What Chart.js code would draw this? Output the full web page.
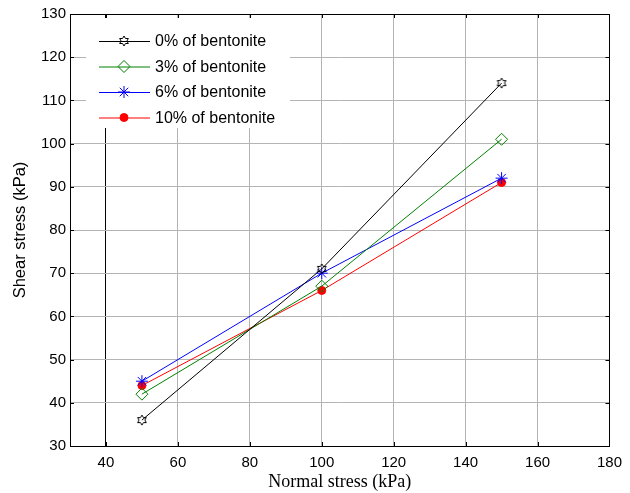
<!DOCTYPE html>
<html>
<head>
<meta charset="utf-8">
<script src="https://cdn.jsdelivr.net/npm/chart.js@4"></script>
<style>
  html, body { margin: 0; padding: 0; background: #fff; }
  #wrap { width: 630px; height: 493px; }
</style>
</head>
<body>
<div id="wrap"><canvas id="shearChart" width="630" height="493"></canvas></div>
<script>
// data
const normalStress = [50, 100, 150];
const shear0 = [36, 71, 114];
const shear3 = [42, 67, 101];
const shear6 = [45, 70, 92];
const shear10 = [44, 66, 91];
const seriesNames = ['0% of bentonite', '3% of bentonite', '6% of bentonite', '10% of bentonite'];
const xTicks = [40, 60, 80, 100, 120, 140, 160, 180];
const yTicks = [30, 40, 50, 60, 70, 80, 90, 100, 110, 120, 130];

const SANS = 'Arial, "Liberation Sans", sans-serif';
const SERIF = '"Times New Roman", "Liberation Serif", serif';

// hexagram marker for the 0% series
function hexagram(color, r) {
    const c = document.createElement('canvas');
    const s = r * 2 + 4;
    c.width = s; c.height = s;
    const g = c.getContext('2d');
    g.strokeStyle = color;
    g.lineWidth = 1;
    const cx = s / 2, cy = s / 2;
    g.beginPath();
    for (let i = 0; i < 12; i++) {
        const rr = i % 2 === 0 ? r : r * 0.58;
        const a = -Math.PI / 2 + i * Math.PI / 6;
        const px = cx + rr * Math.cos(a), py = cy + rr * Math.sin(a);
        if (i === 0) g.moveTo(px, py); else g.lineTo(px, py);
    }
    g.closePath();
    g.stroke();
    return c;
}
const hexMark = hexagram('#000', 5);

function pts(ys) {
    return normalStress.map((x, i) => ({ x: x, y: ys[i] }));
}

const datasets = [
    { label: seriesNames[0], data: pts(shear0), borderColor: '#000', backgroundColor: '#000',
      pointStyle: hexMark, pointRadius: 5 },
    { label: seriesNames[1], data: pts(shear3), borderColor: '#008000', backgroundColor: 'rgba(0,0,0,0)',
      pointStyle: 'rectRot', pointRadius: 6 },
    { label: seriesNames[2], data: pts(shear6), borderColor: '#0000ff', backgroundColor: '#0000ff',
      pointStyle: 'star', pointRadius: 6 },
    { label: seriesNames[3], data: pts(shear10), borderColor: '#ff0000', backgroundColor: '#ff0000',
      pointStyle: 'circle', pointRadius: 4 }
];
datasets.forEach(d => {
    d.borderWidth = 1;
    d.pointBorderWidth = 1;
    d.pointBorderColor = d.borderColor;
    d.pointBackgroundColor = d.backgroundColor;
    d.showLine = true;
    d.fill = false;
    d.tension = 0;
});

// axes box, inward ticks and the in-plot legend (MATLAB look)
const matlabBits = {
    id: 'matlabBits',
    afterDatasetsDraw(chart) {
        const ctx = chart.ctx;
        const a = chart.chartArea;
        const xs = chart.scales.x, ys = chart.scales.y;
        ctx.save();

        // inward ticks
        ctx.strokeStyle = '#000';
        ctx.lineWidth = 1;
        ctx.beginPath();
        xTicks.forEach(v => {
            const px = Math.round(xs.getPixelForValue(v)) + 0.5;
            ctx.moveTo(px, a.bottom); ctx.lineTo(px, a.bottom - 4);
            ctx.moveTo(px, a.top); ctx.lineTo(px, a.top + 4);
        });
        yTicks.forEach(v => {
            const py = Math.round(ys.getPixelForValue(v)) + 0.5;
            ctx.moveTo(a.left, py); ctx.lineTo(a.left + 4, py);
            ctx.moveTo(a.right, py); ctx.lineTo(a.right - 4, py);
        });
        ctx.stroke();

        // legend
        const lx = 86, ly = 18, lw = 204, lh = 110;
        ctx.fillStyle = '#fff';
        ctx.fillRect(lx, ly, lw, lh);
        ctx.font = '16px ' + SANS;
        ctx.textBaseline = 'middle';
        chart.data.datasets.forEach((d, i) => {
            const y = 41 + i * 25.5;
            ctx.strokeStyle = d.borderColor;
            ctx.lineWidth = 1;
            ctx.beginPath();
            ctx.moveTo(99, y + 0.5); ctx.lineTo(150, y + 0.5);
            ctx.stroke();
            const m = chart.getDatasetMeta(i).data[0];
            if (m && m.draw) {
                const ox = m.x, oy = m.y;
                m.x = 124; m.y = y;
                m.draw(ctx, a);
                m.x = ox; m.y = oy;
            }
            ctx.fillStyle = '#000';
            ctx.fillText(d.label, 155, y + 1);
        });

        // box
        ctx.strokeStyle = '#000';
        ctx.lineWidth = 1;
        ctx.strokeRect(Math.round(a.left) + 0.5, Math.round(a.top) + 0.5,
            Math.round(a.right - a.left), Math.round(a.bottom - a.top));
        ctx.restore();
    }
};

new Chart(document.getElementById('shearChart').getContext('2d'), {
    type: 'scatter',
    data: { datasets: datasets },
    options: {
        responsive: false,
        animation: false,
        clip: false,
        layout: { padding: { top: 14, right: 14, left: 0, bottom: 0 } },
        plugins: { legend: { display: false }, tooltip: { enabled: false } },
        scales: {
            x: {
                type: 'linear',
                min: 30, max: 180,
                afterBuildTicks: s => { s.ticks = xTicks.map(v => ({ value: v })); },
                afterFit: s => { s.height = 47; },
                grid: {
                    color: c => (c.tick && c.tick.value === 40) ? '#000' : '#b4b4b4',
                    lineWidth: 1,
                    tickLength: 0,
                    drawTicks: false
                },
                border: { display: false },
                ticks: {
                    color: '#000',
                    padding: 8,
                    maxRotation: 0,
                    font: { family: SANS, size: 15 }
                },
                title: {
                    display: true,
                    text: 'Normal stress (kPa)',
                    color: '#000',
                    padding: { top: 0, bottom: 0 },
                    font: { family: SERIF, size: 18 }
                }
            },
            y: {
                type: 'linear',
                min: 30, max: 130,
                afterBuildTicks: s => { s.ticks = yTicks.map(v => ({ value: v })); },
                afterFit: s => { s.width = 70; },
                grid: { color: '#b4b4b4', lineWidth: 1, tickLength: 0, drawTicks: false },
                border: { display: false },
                ticks: {
                    color: '#000',
                    padding: 4,
                    font: { family: SANS, size: 15 }
                },
                title: {
                    display: true,
                    text: 'Shear stress (kPa)',
                    color: '#000',
                    padding: { top: 11, bottom: 0 },
                    font: { family: SANS, size: 16.5 }
                }
            }
        }
    },
    plugins: [matlabBits]
});
</script>
</body>
</html>
